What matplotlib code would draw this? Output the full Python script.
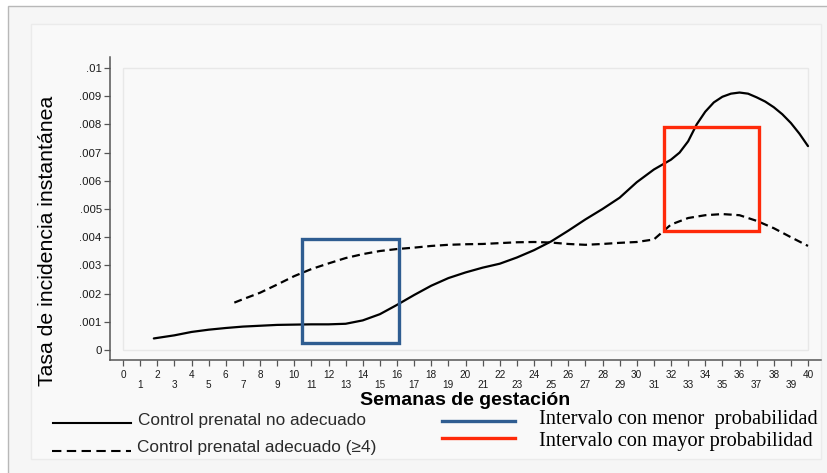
import matplotlib
matplotlib.use("Agg")
import matplotlib.pyplot as plt
from matplotlib.patches import Rectangle
from matplotlib.lines import Line2D

# ---------------- data ----------------
weeks_no_adecuado = [1.8, 3, 4, 5, 6, 7, 8, 9, 10, 11, 12, 13, 14, 15, 16, 17, 18, 19, 20,
                     21, 22, 23, 24, 25, 26, 27, 28, 29, 30, 31, 32, 32.5, 33, 33.5, 34, 34.5,
                     35, 35.5, 36, 36.5, 37, 37.5, 38, 38.5, 39, 39.5, 40]
tasa_no_adecuado = [0.00041, 0.00052, 0.00064, 0.00072, 0.00078, 0.00083, 0.00086, 0.00089,
                    0.00090, 0.00091, 0.00091, 0.00093, 0.00105, 0.00127, 0.00160, 0.00195,
                    0.00228, 0.00255, 0.00275, 0.00292, 0.00306, 0.00328, 0.00354, 0.00385,
                    0.00423, 0.00463, 0.00500, 0.00540, 0.00595, 0.00640, 0.00675, 0.00700,
                    0.00740, 0.00800, 0.00845, 0.00878, 0.00898, 0.00909, 0.00913, 0.00909,
                    0.00896, 0.00881, 0.00861, 0.00836, 0.00805, 0.00767, 0.00723]

weeks_adecuado = [6.5, 7, 8, 9, 10, 11, 12, 13, 14, 15, 16, 17, 18, 19, 20, 21, 22, 23, 24,
                  25, 26, 27, 28, 29, 30, 31, 32, 33, 34, 35, 36, 37, 38, 39, 40]
tasa_adecuado = [0.00168, 0.00180, 0.00203, 0.00232, 0.00262, 0.00287, 0.00307, 0.00326,
                 0.00340, 0.00351, 0.00358, 0.00363, 0.00369, 0.00373, 0.00375, 0.00376,
                 0.00379, 0.00382, 0.00383, 0.00381, 0.00376, 0.00373, 0.00376, 0.00380,
                 0.00383, 0.00392, 0.00445, 0.00468, 0.00478, 0.00482, 0.00478, 0.00458,
                 0.00432, 0.00400, 0.00369]

x_ticks = list(range(0, 41))
y_ticks = [0, 0.001, 0.002, 0.003, 0.004, 0.005, 0.006, 0.007, 0.008, 0.009, 0.01]
y_tick_labels = ["0", ".001", ".002", ".003", ".004", ".005", ".006", ".007", ".008", ".009", ".01"]

# highlighted intervals: (x0, x1, y0, y1)
intervalo_menor = (10.47, 16.1, 0.00026, 0.00393)
intervalo_mayor = (31.59, 37.16, 0.00423, 0.0079)

label_no = "Control prenatal no adecuado"
label_ad = "Control prenatal adecuado (\u22654)"
label_menor = "Intervalo con menor  probabilidad"
label_mayor = "Intervalo con mayor probabilidad"

BLUE = "#2f5d91"
RED = "#ff2a0a"

# ---------------- figure ----------------
W, H = 828, 473
fig = plt.figure(figsize=(W / 100, H / 100), dpi=100, facecolor="white")


def fx(x):
    return x / W


def fy(y):
    return 1 - y / H


# outer frame and inner panel (behind the axes)
fig.patches.append(Rectangle((fx(8), fy(480)), fx(830) - fx(8), fy(6) - fy(480),
                             transform=fig.transFigure, facecolor="#f6f6f6",
                             edgecolor="#b8b8b8", lw=1.0, zorder=-2))
fig.patches.append(Rectangle((fx(31), fy(459)), fx(821) - fx(31), fy(24) - fy(459),
                             transform=fig.transFigure, facecolor="#f9f9f9",
                             edgecolor="#ebebeb", lw=1.0, zorder=-1))

ax = fig.add_axes([fx(110), fy(360), fx(821) - fx(110), fy(57) - fy(360)])
ax.set_zorder(1)
ax.patch.set_alpha(0)

# pixel mapping: week 0 -> x=123, week 40 -> x=808 ; y 0 -> 350, .01 -> 68
xpw = (808 - 123) / 40.0
ypu = (350 - 68) / 0.01
ax.set_xlim((110 - 123) / xpw, (821 - 123) / xpw)
ax.set_ylim((350 - 360) / ypu, (350 - 57) / ypu)

# faint inner plot-region box
ax.add_patch(Rectangle((0, 0), 40, 0.01, facecolor="none", edgecolor="#e8e8e8", lw=1.0, zorder=0.5))

ax.plot(weeks_no_adecuado, tasa_no_adecuado, color="black", lw=1.6,
        solid_capstyle="round", solid_joinstyle="round", zorder=3)
ax.plot(weeks_adecuado, tasa_adecuado, color="black", lw=1.6, dashes=(3.6, 2.1), zorder=3)

for (x0, x1, y0, y1), c in ((intervalo_menor, BLUE), (intervalo_mayor, RED)):
    ax.add_patch(Rectangle((x0, y0), x1 - x0, y1 - y0, facecolor="none",
                           edgecolor=c, lw=2.4, zorder=4))

for s in ("top", "right"):
    ax.spines[s].set_visible(False)
for s in ("left", "bottom"):
    ax.spines[s].set_color("#555555")
    ax.spines[s].set_linewidth(1.1)

ax.set_yticks(y_ticks)
ax.set_yticklabels(y_tick_labels)
ax.tick_params(axis="y", length=4, width=0.9, color="#555555", labelsize=8.2,
               labelcolor="#1a1a1a", pad=2)

evens = [t for t in x_ticks if t % 2 == 0]
odds = [t for t in x_ticks if t % 2 == 1]
ax.set_xticks(evens)
ax.set_xticklabels([str(t) for t in evens])
ax.set_xticks(odds, minor=True)
ax.set_xticklabels([str(t) for t in odds], minor=True)
ax.tick_params(axis="x", which="major", length=4, width=0.9, color="#555555",
               labelsize=7.2, labelcolor="#1a1a1a", pad=3.0)
ax.tick_params(axis="x", which="minor", length=4, width=0.9, color="#555555",
               labelsize=7.2, labelcolor="#1a1a1a", pad=10.2)
for lab in ax.get_yticklabels() + ax.get_xticklabels() + ax.get_xticklabels(minor=True):
    lab.set_family("Liberation Sans")

# axis titles
fig.text(fx(48), fy(241), "Tasa de incidencia instantánea", rotation=90, ha="center",
         va="center", fontsize=15.3, family="Liberation Sans", color="black")
fig.text(fx(465), fy(400), "Semanas de gestación", ha="center", va="center",
         fontsize=14, fontweight="bold", family="Liberation Sans", color="black")

# legend (left)
fig.lines.append(Line2D([fx(53), fx(131)], [fy(423), fy(423)], transform=fig.transFigure,
                        color="black", lw=1.5))
fig.lines.append(Line2D([fx(52), fx(131)], [fy(451), fy(451)], transform=fig.transFigure,
                        color="black", lw=1.5, dashes=(4.5, 2.6)))
fig.text(fx(138), fy(420), label_no, ha="left", va="center", fontsize=12.4,
         family="Liberation Sans", color="#2a2a2a")
fig.text(fx(137), fy(447), label_ad, ha="left", va="center", fontsize=12.4,
         family=["Liberation Sans", "DejaVu Sans"], color="#2a2a2a")

# legend (right)
fig.lines.append(Line2D([fx(442), fx(515)], [fy(421), fy(421)], transform=fig.transFigure,
                        color=BLUE, lw=2.4))
fig.lines.append(Line2D([fx(442), fx(515)], [fy(438), fy(438)], transform=fig.transFigure,
                        color=RED, lw=2.4))
fig.text(fx(539), fy(419), label_menor, ha="left", va="center", fontsize=14.7,
         family="Liberation Serif", color="black")
fig.text(fx(539), fy(441), label_mayor, ha="left", va="center", fontsize=14.7,
         family="Liberation Serif", color="black")

fig.savefig("out.png", dpi=100, facecolor=fig.get_facecolor())
